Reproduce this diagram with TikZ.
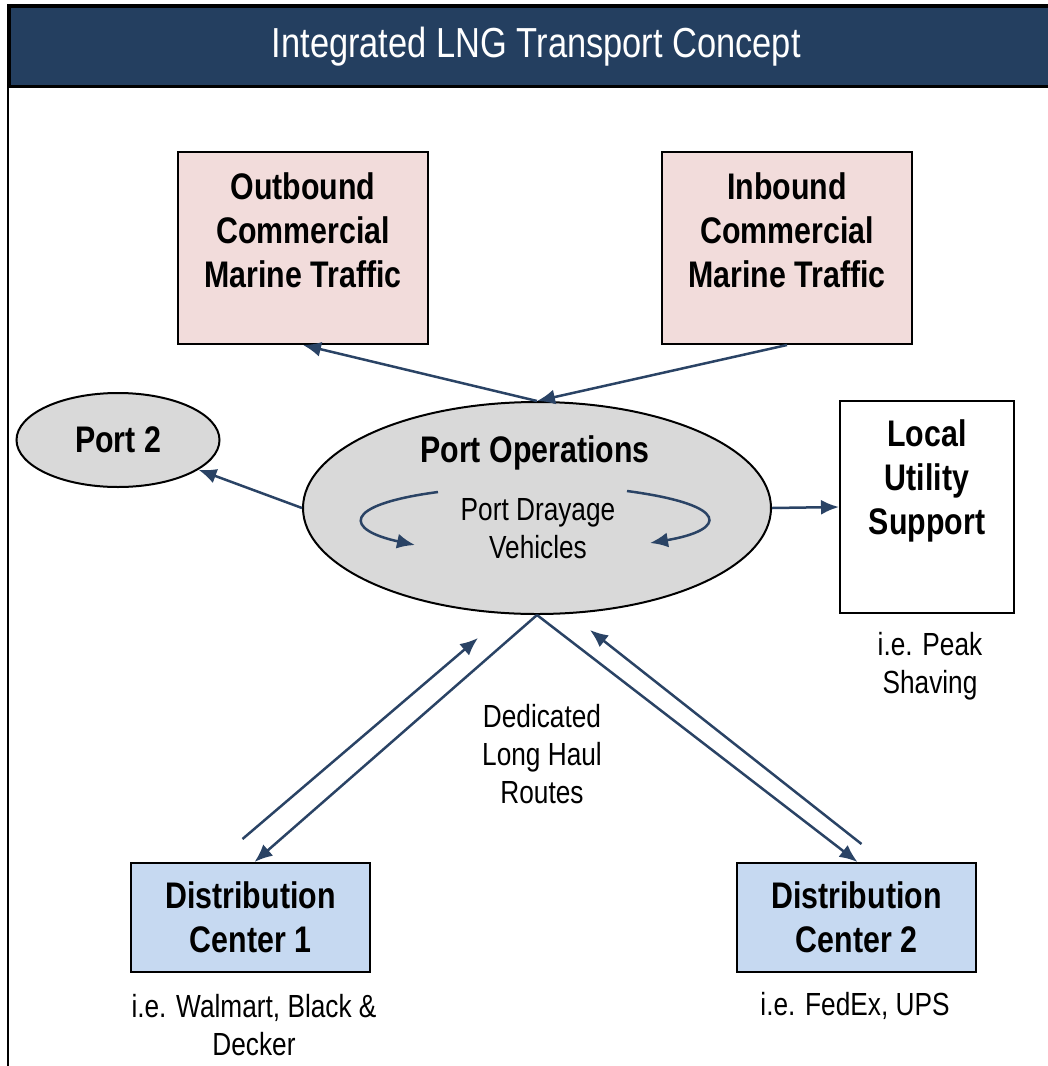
\documentclass[tikz,border=0pt]{standalone}
\usepackage{fontspec}
\setmainfont[FakeStretch=0.82]{Liberation Sans}
\usetikzlibrary{positioning}
\usetikzlibrary{shapes.geometric}
\usetikzlibrary{arrows.meta,calc}
\definecolor{headblue}{HTML}{243F60}
\definecolor{arrowblue}{HTML}{2A4365}
\definecolor{shippink}{HTML}{F2DCDB}
\definecolor{portgray}{HTML}{D9D9D9}
\definecolor{centerblue}{HTML}{C6D9F1}
\tikzset{bigtext/.style={font=\fontsize{37}{44}\selectfont\bfseries,align=center},smalltext/.style={font=\fontsize{32}{38}\selectfont,align=center}}

\begin{document}
\begin{tikzpicture}[x=1pt,y=-1pt]
  \tikzstyle{abox}=[draw,line width=2pt,inner sep=0pt]
  \tikzstyle{aellipse}=[draw,ellipse,line width=2pt,fill=portgray,inner sep=0pt]
  \tikzstyle{arrowline}=[draw,arrowblue,line width=2.5pt,-{Latex[length=18pt,width=15pt]}]

  \useasboundingbox (0,0) rectangle (1048,1066);
  \clip (0,0) rectangle (1048,1066);

  % frame and title bar
  \draw[line width=2.5pt] (8,5) rectangle (1062,1090);
  \node[draw,line width=2.5pt,fill=headblue,minimum width=1054,minimum height=80,anchor=north west,inner sep=0pt,text=white,font=\fontsize{42}{50}\selectfont] (title) at (8,5) {Integrated LNG Transport Concept};

  % marine traffic
  \node[abox,fill=shippink,minimum width=250,minimum height=192] (outb) at (303,248) {};
  \node[bigtext] (outbtxt) at (303,230) {Outbound\\Commercial\\Marine Traffic};
  \node[abox,fill=shippink,minimum width=250,minimum height=192] (inb) at (787,248) {};
  \node[bigtext] (inbtxt) at (787,230) {Inbound\\Commercial\\Marine Traffic};

  % ports
  \node[aellipse,minimum width=203,minimum height=94,bigtext] (port2) at (118,440) {Port 2};
  \node[aellipse,minimum width=468,minimum height=212] (ops) at (537,508) {};
  \node[bigtext] (opstxt) at (535,453) {Port Operations};
  \node[smalltext] (dray) at (538,529) {Port Drayage\\Vehicles};

  % utility
  \node[abox,fill=white,minimum width=174,minimum height=212] (local) at (927,507) {};
  \node[bigtext] (localtxt) at (927,481) {Local\\Utility\\Support};
  \node[smalltext] (peak) at (930,666) {i.e. Peak\\Shaving};

  % distribution centers
  \node[abox,fill=centerblue,minimum width=239,minimum height=109,bigtext] (dc1) at (250.5,917.5) {Distribution\\Center 1};
  \node[abox,fill=centerblue,minimum width=239,minimum height=109,bigtext] (dc2) at (856.5,917.5) {Distribution\\Center 2};
  \node[smalltext] (dc1txt) at (254,1025) {i.e. Walmart, Black \&\\Decker};
  \node[smalltext] (dc2txt) at (855,1006) {i.e. FedEx, UPS};
  \node[smalltext] (routes) at (542,754) {Dedicated\\Long Haul\\Routes};

  \path[arrowline] (ops.north) -- (outb.south);
  \path[arrowline] (inb.south) -- (ops.north);
  \path[arrowline] (ops.west) -- (port2);
  \path[arrowline] (ops.east) -- (local.west);
  \path[arrowline] (ops.south) -- ([xshift=4]dc1.north);
  \path[arrowline] (ops.south) -- ([xshift=1]dc2.north);
  \path[arrowline] ($(dc1.north)+(-8,-23)$) -- ($(ops.south)+(-59,23)$);
  \path[arrowline] ($(dc2.north)+(5,-18)$) -- ($(ops.south)+(53,15)$);

  % drayage loops
  \coordinate (lstart) at (438,492);
  \coordinate (lend) at (415,545);
  \coordinate (rstart) at (627,491);
  \coordinate (rend) at (650,543);
  \path[arrowline] (lstart) .. controls (340,505) and (345,530) .. (lend);
  \path[arrowline] (rstart) .. controls (732,505) and (727,530) .. (rend);
\end{tikzpicture}
\end{document}
